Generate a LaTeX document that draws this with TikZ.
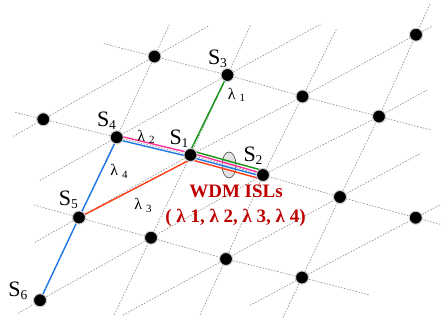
\documentclass[tikz,border=0pt]{standalone}
\usepackage{fontspec}
\setmainfont{Liberation Serif}
\usetikzlibrary{calc,shapes.geometric}
\pgfdeclarelayer{background}
\pgfsetlayers{background,main}
\definecolor{gridgray}{RGB}{150,150,150}
\definecolor{lgreen}{RGB}{20,150,20}
\definecolor{lpink}{RGB}{255,51,153}
\definecolor{lblue}{RGB}{30,120,230}
\definecolor{lred}{RGB}{255,60,20}
\definecolor{wdmred}{RGB}{192,0,0}
\newcommand{\satlab}[1]{S\raisebox{-3pt}{\fontsize{13.5}{13.5}\selectfont #1}}
\newcommand{\lamlab}[1]{λ\hspace{4pt}\raisebox{-2.5pt}{\fontsize{11}{11}\selectfont #1}}
\begin{document}
\begin{tikzpicture}[x=1pt,y=-1pt,
  sat/.style={circle,fill=black,draw=gray!40,line width=1pt,inner sep=0pt,minimum size=13pt},
  gridline/.style={draw=gridgray,line width=0.7pt,dash pattern=on 1.5pt off 1.5pt},
  isl/.style={line width=1.4pt,line join=round},
  slabel/.style={inner sep=0pt,font=\fontsize{22}{22}\selectfont},
  llabel/.style={inner sep=0pt,font=\fontsize{16}{16}\selectfont},
  wdm/.style={inner sep=0pt,text=wdmred,font=\bfseries\fontsize{19}{19}\selectfont},
  bundle/.style={ellipse,fill=gray!22,draw=gray!55!black,line width=0.6pt,minimum width=14pt,minimum height=26pt,inner sep=0pt}
]
\useasboundingbox (0,0) rectangle (441,322);

% satellites
\node[sat] (S1) at (190.5,155) {};
\node[sat] (S2) at (263,175) {};
\node[sat] (S3) at (227.5,75) {};
\node[sat] (S4) at (116.7,137.3) {};
\node[sat] (S5) at (79,217.5) {};
\node[sat] (S6) at (40,300.3) {};
\node[sat] (A) at (154.5,56.5) {};
\node[sat] (B) at (43.3,119.3) {};
\node[sat] (C) at (302.5,96.5) {};
\node[sat] (D) at (416,34.7) {};
\node[sat] (E) at (379,116.5) {};
\node[sat] (F) at (340,197) {};
\node[sat] (G) at (415.7,217.7) {};
\node[sat] (H) at (226,259) {};
\node[sat] (I) at (302,277.5) {};
\node[sat] (J) at (151,237.7) {};

% free ends of the grid lines
\coordinate (a1s) at (104,43.7);   \coordinate (a1e) at (431,130);
\coordinate (a0s) at (15.3,112.5); \coordinate (a0e) at (441,224.5);
\coordinate (am1s) at (34,205);    \coordinate (am1e) at (370,295);
\coordinate (c1e) at (169.2,25);
\coordinate (c0s) at (114.3,314.6); \coordinate (c0e) at (250.8,24.6);
\coordinate (cp1s) at (200,315);   \coordinate (cp1e) at (336.5,29);
\coordinate (cp2s) at (283,317.7); \coordinate (cp2e) at (430,4);
\coordinate (dm2s) at (13.3,136.3); \coordinate (dm2e) at (209,25.7);
\coordinate (dm1s) at (40,180.3);  \coordinate (dm1e) at (321,24);
\coordinate (d0s) at (35,242.2);   \coordinate (d0e) at (432,26.3);
\coordinate (d1s) at (18,313.5);   \coordinate (d1e) at (427,90);
\coordinate (d2s) at (123,315);    \coordinate (d2e) at (421,153);
\coordinate (d3s) at (250,305.5);  \coordinate (d3e) at (441,204.4);

\begin{pgfonlayer}{background}
  \fill[white] (0,0) rectangle (441,322);
  % grid lines
  \draw[gridline] (a1s) -- (A.center) -- (S3.center) -- (C.center) -- (E.center) -- (a1e);
  \draw[gridline] (a0s) -- (B.center) -- (S4.center) -- (S1.center) -- (S2.center) -- (F.center) -- (G.center) -- (a0e);
  \draw[gridline] (am1s) -- (S5.center) -- (J.center) -- (H.center) -- (I.center) -- (am1e);
  \draw[gridline] (S6.center) -- (S5.center) -- (S4.center) -- (A.center) -- (c1e);
  \draw[gridline] (c0s) -- (J.center) -- (S1.center) -- (S3.center) -- (c0e);
  \draw[gridline] (cp1s) -- (H.center) -- (S2.center) -- (C.center) -- (cp1e);
  \draw[gridline] (cp2s) -- (I.center) -- (F.center) -- (E.center) -- (D.center) -- (cp2e);
  \draw[gridline] (dm2s) -- (B.center) -- (A.center) -- (dm2e);
  \draw[gridline] (dm1s) -- (S4.center) -- (S3.center) -- (dm1e);
  \draw[gridline] (d0s) -- (S5.center) -- (S1.center) -- (C.center) -- (D.center) -- (d0e);
  \draw[gridline] (d1s) -- (S6.center) -- (J.center) -- (S2.center) -- (E.center) -- (d1e);
  \draw[gridline] (d2s) -- (H.center) -- (F.center) -- (d2e);
  \draw[gridline] (d3s) -- (I.center) -- (G.center) -- (d3e);
  % bundle marker
  \node[bundle] (bnd) at (229,165) {};
  % WDM inter-satellite links
  \draw[isl,lgreen] (S3.center) -- ([yshift=4.5pt]S1.center) -- ([yshift=4.5pt]S2.center);
  \draw[isl,lpink] ([yshift=2pt]S4.center) -- ([yshift=2pt]S1.center) -- ([yshift=1.5pt]S2.center);
  \draw[isl,lblue] (S6.center) -- (S5.center) -- ([yshift=-2pt]S4.center) -- ([yshift=-2pt]S1.center) -- ([yshift=-1.5pt]S2.center);
  \draw[isl,lred] (S5.center) -- ([yshift=-4.5pt]S1.center) -- ([yshift=-4.5pt]S2.center);
\end{pgfonlayer}

% labels
\node[slabel] (lS1) at (179,138.5) {\satlab{1}};
\node[slabel] (lS2) at (253,156) {\satlab{2}};
\node[slabel] (lS3) at (217.5,59) {\satlab{3}};
\node[slabel] (lS4) at (106.5,120.5) {\satlab{4}};
\node[slabel] (lS5) at (68.3,199.5) {\satlab{5}};
\node[slabel] (lS6) at (17.8,291) {\satlab{6}};
\node[llabel] (l1) at (236.5,95) {\lamlab{1}};
\node[llabel] (l2) at (146,137) {\lamlab{2}};
\node[llabel] (l3) at (143,205.5) {\lamlab{3}};
\node[llabel] (l4) at (119,171.5) {\lamlab{4}};
\node[wdm] (w1) at (236,191) {WDM ISLs};
\node[wdm] (w2) at (235.5,217.5) {( λ 1, λ 2, λ 3, λ 4)};
\end{tikzpicture}
\end{document}
